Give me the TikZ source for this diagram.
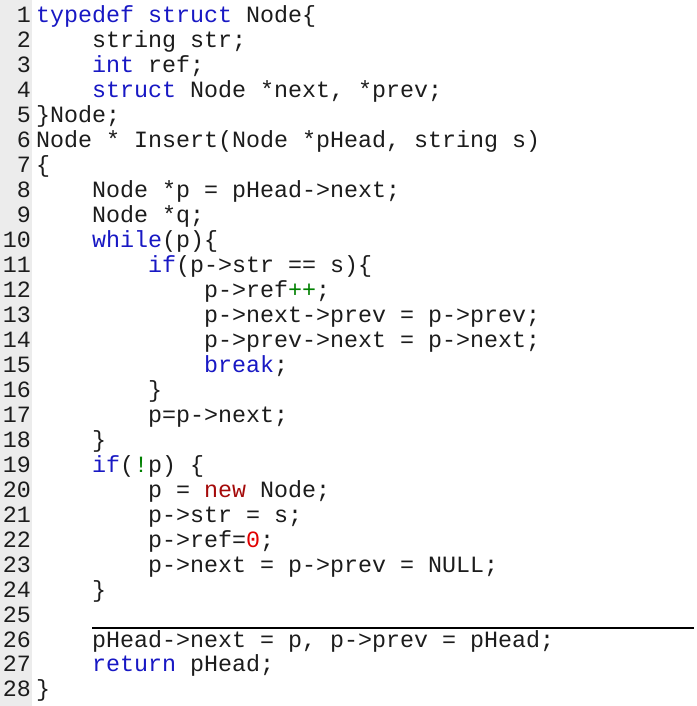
\documentclass[tikz,border=0pt]{standalone}
\usepackage{fontspec}
\newfontfamily\codefont{Liberation Mono}
\usetikzlibrary{positioning}

\definecolor{gutterbg}{RGB}{236,236,236}
\definecolor{kwblue}{RGB}{24,24,196}
\definecolor{opgreen}{RGB}{0,128,0}
\definecolor{newred}{RGB}{165,10,10}
\definecolor{numred}{RGB}{225,0,0}
\definecolor{plain}{RGB}{28,28,28}

\newcommand{\kw}[1]{\textcolor{kwblue}{#1}}
\newcommand{\op}[1]{\textcolor{opgreen}{#1}}

\tikzset{
  code/.style={anchor=base west, inner sep=0pt, text=plain,
    font=\codefont\fontsize{23.33pt}{25pt}\selectfont},
  lnum/.style={anchor=base east, inner sep=0pt, xshift=-5pt, text=plain,
    font=\codefont\fontsize{23.33pt}{25pt}\selectfont}
}

\begin{document}
\begin{tikzpicture}[x=14pt, y=-24.96pt]
\useasboundingbox (0pt,0pt) rectangle (696pt,-706pt);
\fill[white] (0pt,0pt) rectangle (696pt,-706pt);
\fill[gutterbg] (0pt,0pt) rectangle (32pt,-706pt);

\begin{scope}[shift={(36pt,1.96pt)}]
% line numbers
\foreach \i in {1,...,28}
  \node[lnum] (n\i) at (0,\i) {\i};

% the listing
\node[code] (l1) at (0,1) {\kw{typedef} \kw{struct} Node\{};
\node[code] (l2) at (4,2) {string str;};
\node[code] (l3) at (4,3) {\kw{int} ref;};
\node[code] (l4) at (4,4) {\kw{struct} Node *next, *prev;};
\node[code] (l5) at (0,5) {\}Node;};
\node[code] (l6) at (0,6) {Node * Insert(Node *pHead, string s)};
\node[code] (l7) at (0,7) {\{};
\node[code] (l8) at (4,8) {Node *p = pHead->next;};
\node[code] (l9) at (4,9) {Node *q;};
\node[code] (l10) at (4,10) {\kw{while}(p)\{};
\node[code] (l11) at (8,11) {\kw{if}(p->str == s)\{};
\node[code] (l12) at (12,12) {p->ref\op{++};};
\node[code] (l13) at (12,13) {p->next->prev = p->prev;};
\node[code] (l14) at (12,14) {p->prev->next = p->next;};
\node[code] (l15) at (12,15) {\kw{break};};
\node[code] (l16) at (8,16) {\}};
\node[code] (l17) at (8,17) {p=p->next;};
\node[code] (l18) at (4,18) {\}};
\node[code] (l19) at (4,19) {\kw{if}(\op{!}p) \{};
\node[code] (l20) at (8,20) {p = \textcolor{newred}{new} Node;};
\node[code] (l21) at (8,21) {p->str = s;};
\node[code] (l22) at (8,22) {p->ref=\textcolor{numred}{0};};
\node[code] (l23) at (8,23) {p->next = p->prev = NULL;};
\node[code] (l24) at (4,24) {\}};
\node[code] (l26) at (4,26) {pHead->next = p, p->prev = pHead;};
\node[code] (l27) at (4,27) {\kw{return} pHead;};
\node[code] (l28) at (0,28) {\}};
\end{scope}

% rule above line 26
\coordinate (ruleL) at (92pt,-628pt);
\coordinate (ruleR) at (694pt,-628pt);
\draw[line width=1.2pt, black] (ruleL) -- (ruleR);
\end{tikzpicture}
\end{document}
